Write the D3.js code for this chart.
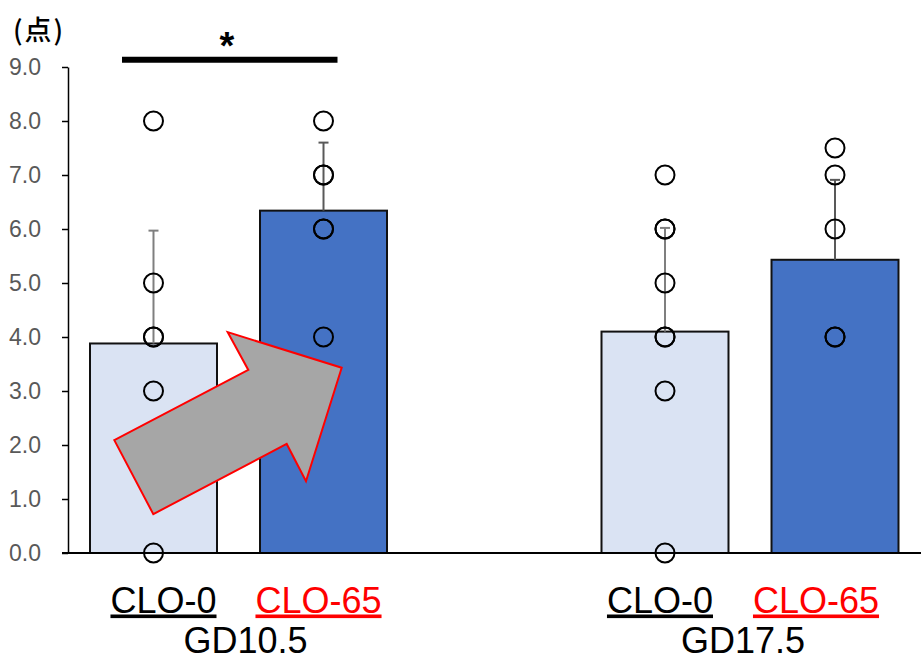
<!DOCTYPE html>
<html>
<head>
<meta charset="utf-8">
<script src="https://cdn.jsdelivr.net/npm/d3@7"></script>
<style>
  html, body { margin: 0; padding: 0; background: #fff; }
  svg { display: block; font-family: "Liberation Sans", Arial, sans-serif; }
</style>
</head>
<body>
<svg id="chart" width="921" height="660"></svg>
<script>
// Gestational-day groups and treatment series
const groups = ["GD10.5", "GD17.5"];
const series = ["CLO-0", "CLO-65"];

// Mean score per group (one array per series)
const meanClo0 = [3.88, 4.10];
const meanClo65 = [6.34, 5.43];

// Upper end of the error bar (mean + SD)
const errTopClo0 = [5.97, 6.02];
const errTopClo65 = [7.60, 6.91];

// Individual scores (repeated values overlap)
const pointsClo0 = [
  [8, 5, 4, 4, 3, 0],
  [7, 6, 6, 5, 4, 4, 3, 0]
];
const pointsClo65 = [
  [8, 7, 7, 6, 6, 4],
  [7.5, 7, 6, 4, 4]
];

const yTicks = [0, 1, 2, 3, 4, 5, 6, 7, 8, 9];
const yUnit = "(点)";
const sigMark = "*";

// Wide arrow shape, x as pixel offset from the first group centre, y in score units
const arrowShape = [
  [-124.2, 2.09], [-85.2, 0.72], [48.2, 2.02], [67.5, 1.33],
  [103.2, 3.43], [-10.8, 4.09], [9.8, 3.39]
];

const svg = d3.select("#chart");

const y = d3.scaleLinear().domain([0, 9]).range([553, 67]);
const xGroup = d3.scalePoint().domain(groups).range([238.5, 750]);
const xSeries = d3.scaleBand().domain(series).range([-148.5, 148.5]).paddingInner(0.253);
const bw = xSeries.bandwidth();

const rows = [];
groups.forEach((g, i) => {
  rows.push({ g, s: "CLO-0", mean: meanClo0[i], top: errTopClo0[i], pts: pointsClo0[i] });
  rows.push({ g, s: "CLO-65", mean: meanClo65[i], top: errTopClo65[i], pts: pointsClo65[i] });
});
const cx = d => xGroup(d.g) + xSeries(d.s) + bw / 2;

const fills = { "CLO-0": "#dae3f3", "CLO-65": "#4472c4" };
const errColor = { "CLO-0": "#7f7f7f", "CLO-65": "#595959" };

// Bars
svg.append("g").selectAll("rect").data(rows).join("rect")
  .attr("x", d => xGroup(d.g) + xSeries(d.s))
  .attr("y", d => y(d.mean))
  .attr("width", bw)
  .attr("height", d => y(0) - y(d.mean))
  .attr("fill", d => fills[d.s])
  .attr("stroke", "#111")
  .attr("stroke-width", 2);

// Error bars (upper only)
const eb = svg.append("g").selectAll("g").data(rows).join("g")
  .attr("stroke", d => errColor[d.s]).attr("stroke-width", 2);
eb.append("line")
  .attr("x1", cx).attr("x2", cx)
  .attr("y1", d => y(d.mean)).attr("y2", d => y(d.top));
eb.append("line")
  .attr("x1", d => cx(d) - 5).attr("x2", d => cx(d) + 5)
  .attr("y1", d => y(d.top)).attr("y2", d => y(d.top));

// Y axis
const yAxis = d3.axisLeft(y).tickValues(yTicks).tickFormat(d3.format(".1f"))
  .tickSize(6).tickSizeOuter(0).tickPadding(21);
const ya = svg.append("g").attr("transform", "translate(68,0)").call(yAxis);
ya.attr("font-size", null).attr("font-family", null);
ya.select(".domain").attr("stroke", "#000").attr("stroke-width", 1.5);
ya.selectAll(".tick line").attr("stroke", "#000").attr("stroke-width", 1.5);
ya.selectAll(".tick text")
  .attr("fill", "#595959")
  .attr("font-family", "'Liberation Sans', Arial, sans-serif")
  .attr("font-size", 23);

// Baseline
svg.append("line")
  .attr("x1", 62).attr("x2", 921)
  .attr("y1", y(0)).attr("y2", y(0))
  .attr("stroke", "#000").attr("stroke-width", 2);

// Arrow annotation
const g0 = xGroup(groups[0]);
svg.append("polygon")
  .attr("points", arrowShape.map(p => [g0 + p[0], y(p[1])].join(",")).join(" "))
  .attr("fill", "#a6a6a6")
  .attr("stroke", "#ff0000")
  .attr("stroke-width", 2)
  .attr("stroke-linejoin", "miter");

// Individual points
const pts = [];
rows.forEach(d => d.pts.forEach(v => pts.push({ x: cx(d), v })));
svg.append("g").selectAll("circle").data(pts).join("circle")
  .attr("cx", d => d.x)
  .attr("cy", d => y(d.v))
  .attr("r", 9.5)
  .attr("fill", "none")
  .attr("stroke", "#000")
  .attr("stroke-width", 2);

// Significance bracket between CLO-0 and CLO-65 at GD10.5
svg.append("line")
  .attr("x1", g0 + xSeries("CLO-0") + bw / 2 - 31.5)
  .attr("x2", g0 + xSeries("CLO-65") + bw / 2 + 14)
  .attr("y1", 59.7).attr("y2", 59.7)
  .attr("stroke", "#000").attr("stroke-width", 6);
svg.append("text")
  .attr("x", 227).attr("y", 59)
  .attr("text-anchor", "middle")
  .style("font-size", "38px").style("font-weight", "bold")
  .text(sigMark);

// Unit label
svg.append("text")
  .attr("x", 13).attr("y", 40)
  .style("font-family", "'Noto Sans CJK JP', sans-serif")
  .style("font-size", "27px")
  .style("font-weight", "500")
  .style("letter-spacing", "2px")
  .text(yUnit);

// Category labels
const labelShift = { "GD10.5": { "CLO-0": 10, "CLO-65": -5 }, "GD17.5": { "CLO-0": -5, "CLO-65": -19 } };
const labColor = { "CLO-0": "#000", "CLO-65": "#ff0000" };
rows.forEach(d => {
  svg.append("text")
    .attr("x", cx(d) + labelShift[d.g][d.s])
    .attr("y", 612.5)
    .attr("text-anchor", "middle")
    .attr("fill", labColor[d.s])
    .style("font-size", "36px")
    .style("text-decoration", "underline")
    .text(d.s);
});
const groupShift = { "GD10.5": 7, "GD17.5": -7 };
svg.append("g").selectAll("text").data(groups).join("text")
  .attr("x", d => xGroup(d) + groupShift[d])
  .attr("y", 652.5)
  .attr("text-anchor", "middle")
  .attr("fill", "#000")
  .style("font-size", "36px")
  .text(d => d);
</script>
</body>
</html>
